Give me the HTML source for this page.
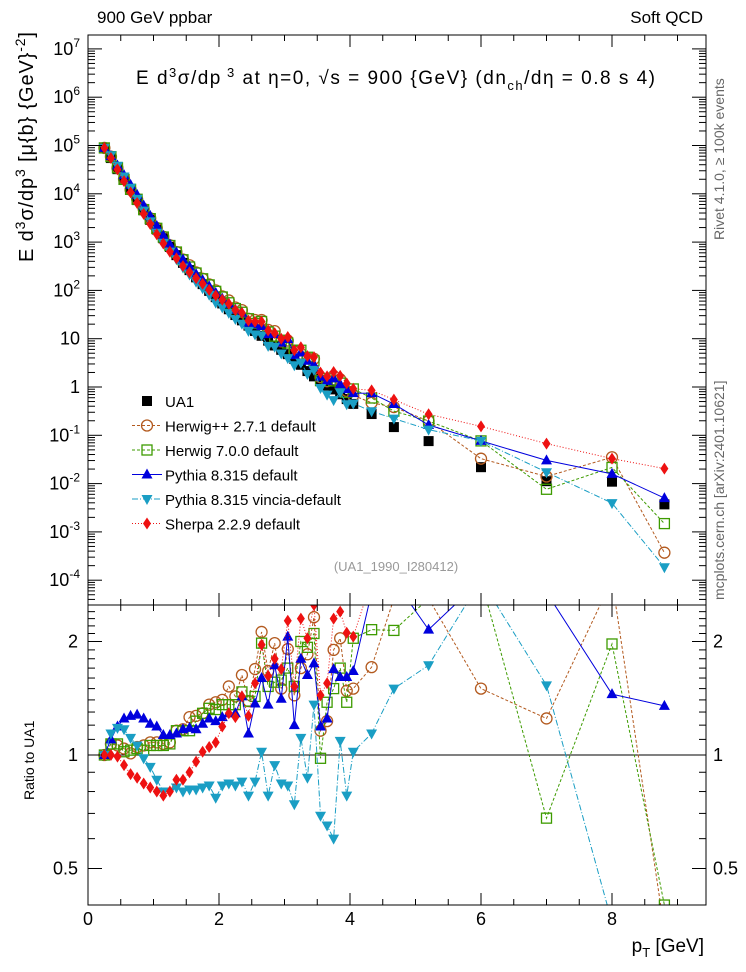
<!DOCTYPE html>
<html><head><meta charset="utf-8"><style>
html,body{margin:0;padding:0;background:#fff;width:746px;height:972px;overflow:hidden;}
svg{display:block;font-family:"Liberation Sans",sans-serif;}
</style></head><body>
<svg id="c" width="746" height="972" viewBox="0 0 746 972" xmlns="http://www.w3.org/2000/svg">
<defs>
<clipPath id="cm"><rect x="88" y="35" width="618" height="570"/></clipPath>
<clipPath id="cr"><rect x="88" y="605" width="618" height="300"/></clipPath>
</defs>
<text x="97" y="23" font-size="17">900 GeV ppbar</text>
<text x="703" y="23" font-size="17" text-anchor="end">Soft QCD</text>
<text transform="translate(724,240) rotate(-90)" font-size="14" fill="#666">Rivet 4.1.0, ≥ 100k events</text>
<text transform="translate(724,600) rotate(-90)" font-size="14" fill="#666">mcplots.cern.ch [arXiv:2401.10621]</text>
<text x="136" y="84" font-size="19" textLength="519" lengthAdjust="spacing">E  d<tspan dy="-7" font-size="13">3</tspan><tspan dy="7">σ/dp</tspan><tspan dy="-7" font-size="13"> 3</tspan><tspan dy="7"> at η=0,  √s = 900 {GeV}  (dn</tspan><tspan dy="6" font-size="13">ch</tspan><tspan dy="-6">/dη = 0.8 s 4)</tspan></text>
<text transform="translate(33,32) rotate(-90)" font-size="20" text-anchor="end" textLength="230" lengthAdjust="spacing">E d<tspan dy="-8" font-size="14">3</tspan><tspan dy="8">σ/dp</tspan><tspan dy="-8" font-size="14">3</tspan><tspan dy="8"> [μ{b} {GeV}</tspan><tspan dy="-8" font-size="14">-2</tspan><tspan dy="8">]</tspan></text>
<text transform="translate(34,800) rotate(-90)" font-size="14">Ratio to UA1</text>
<text x="704" y="952" font-size="19" text-anchor="end">p<tspan dy="5" font-size="13">T</tspan><tspan dy="-5"> [GeV]</tspan></text>
<text x="396" y="571" font-size="13" fill="#999" text-anchor="middle">(UA1_1990_I280412)</text>
<g id="gm" clip-path="url(#cm)"></g>
<g id="gr" clip-path="url(#cr)"></g>
<g id="ax"></g>
<g id="lg"></g>
</svg>
<script>
const pT=[0.25,0.35,0.45,0.55,0.65,0.75,0.85,0.95,1.05,1.15,1.25,1.35,1.45,1.55,1.65,1.75,1.85,1.95,2.05,2.15,2.25,2.35,2.45,2.55,2.65,2.75,2.85,2.95,3.05,3.15,3.25,3.35,3.45,3.55,3.65,3.75,3.85,3.95,4.05,4.33,4.67,5.2,6.0,7.0,8.0,8.8];
const ua1Log=[4.95,4.74,4.51,4.29,4.08,3.87,3.66,3.46,3.26,3.08,2.90,2.73,2.57,2.42,2.27,2.13,1.99,1.86,1.73,1.61,1.49,1.38,1.27,1.16,1.06,0.96,0.86,0.77,0.68,0.58,0.46,0.33,0.22,0.14,0.03,-0.05,-0.15,-0.25,-0.35,-0.56,-0.83,-1.12,-1.66,-1.95,-1.96,-2.43];
const herwigppRatio=[1.0,1.07,1.06,1.04,1.01,1.05,1.06,1.08,1.08,1.07,1.08,1.16,1.17,1.26,1.27,1.29,1.36,1.38,1.40,1.52,1.43,1.63,1.39,1.69,2.12,1.67,1.98,1.5,1.91,1.44,1.7,1.85,2.32,1.16,1.23,1.9,2.04,1.48,1.5,1.71,2.6,2.6,1.5,1.25,3.2,0.1];
const herwig7Ratio=[1.0,1.07,1.07,1.02,1.03,1.04,1.03,1.06,1.06,1.06,1.07,1.16,1.16,1.16,1.23,1.29,1.33,1.32,1.36,1.36,1.36,1.47,1.39,1.43,1.98,1.52,1.56,1.58,1.7,1.52,2.0,1.93,2.1,0.98,1.38,1.5,1.7,1.38,2.04,2.15,2.14,2.6,3.5,0.68,1.97,0.4];
const pythiaRatio=[1.0,1.1,1.19,1.25,1.27,1.28,1.25,1.21,1.19,1.13,1.13,1.14,1.17,1.18,1.17,1.21,1.25,1.23,1.26,1.29,1.29,1.43,1.14,1.37,1.6,1.36,1.73,1.41,2.06,1.2,1.8,1.63,1.75,1.19,1.25,1.69,1.61,1.61,1.67,2.7,3.0,2.15,3.5,2.7,1.45,1.35];
const vinciaRatio=[1.0,1.14,1.18,1.17,1.11,1.06,0.98,0.93,0.86,0.8,0.8,0.82,0.8,0.81,0.81,0.82,0.83,0.77,0.83,0.84,0.83,0.85,0.78,0.85,1.02,0.78,0.94,0.84,0.83,0.74,1.11,0.87,1.36,0.69,0.65,0.6,1.09,0.78,1.02,1.14,1.5,1.73,3.5,1.53,0.36,0.05];
const sherpaRatio=[1.0,1.0,0.99,0.94,0.89,0.87,0.84,0.82,0.8,0.78,0.8,0.86,0.86,0.9,0.96,1.02,1.05,1.08,1.19,1.29,1.26,1.43,1.27,1.55,1.96,1.62,1.8,1.69,2.27,1.52,2.3,2.04,2.5,1.44,1.55,2.3,2.4,2.11,2.06,3.1,3.7,3.6,7.0,6.0,3.0,5.5];
const xTicks=[0,2,4,6,8];
const yDecades=[-4,-3,-2,-1,0,1,2,3,4,5,6,7];
const ratioTicks=[0.5,1,2];

const NS="http://www.w3.org/2000/svg";
function X(p){return 88+p*65.5;}
function Y(v){return Math.min(620,Math.max(20,387-Math.log10(v)*48.3));}
function R(r){return Math.min(930,Math.max(580,755-Math.log2(r)*113.5));}
function mk(tag,attrs,parent){const e=document.createElementNS(NS,tag);for(const k in attrs)e.setAttribute(k,attrs[k]);parent.appendChild(e);return e;}
const gm=document.getElementById('gm'),gr=document.getElementById('gr'),ax=document.getElementById('ax'),lg=document.getElementById('lg');
const ua1=ua1Log.map(l=>Math.pow(10,l));

function marker(type,x,y,col,parent){
  let e;
  if(type==='sq'){e=mk('rect',{x:x-5,y:y-5,width:10,height:10,fill:col},parent);}
  else if(type==='osq'){e=mk('rect',{x:x-5,y:y-5,width:10,height:10,fill:'none',stroke:col,'stroke-width':1.3},parent);}
  else if(type==='oc'){e=mk('circle',{cx:x,cy:y,r:5.5,fill:'none',stroke:col,'stroke-width':1.3},parent);}
  else if(type==='tu'){e=mk('polygon',{points:`${x},${y-6} ${x-5.5},${y+4} ${x+5.5},${y+4}`,fill:col},parent);}
  else if(type==='td'){e=mk('polygon',{points:`${x},${y+6} ${x-5.5},${y-4} ${x+5.5},${y-4}`,fill:col},parent);}
  else {e=mk('polygon',{points:`${x},${y-6} ${x-4},${y} ${x},${y+6} ${x+4},${y}`,fill:col},parent);}
  return e;
}
const models=[
 {name:'herwigpp',label:'Herwig++ 2.7.1 default',ratio:herwigppRatio,col:'#b35a1f',m:'oc',dash:'3,2'},
 {name:'herwig7',label:'Herwig 7.0.0 default',ratio:herwig7Ratio,col:'#3d9b00',m:'osq',dash:'3,2'},
 {name:'pythia',label:'Pythia 8.315 default',ratio:pythiaRatio,col:'#0000dd',m:'tu',dash:''},
 {name:'vincia',label:'Pythia 8.315 vincia-default',ratio:vinciaRatio,col:'#1a9ec4',m:'td',dash:'6,2,1,2'},
 {name:'sherpa',label:'Sherpa 2.2.9 default',ratio:sherpaRatio,col:'#ee1111',m:'di',dash:'1,2'}
];
pT.forEach((p,i)=>{const e=marker('sq',X(p),Y(ua1[i]),'#000',gm);

});
const l1=mk('line',{x1:88,x2:706,y1:R(1),y2:R(1),stroke:'#000','stroke-width':1},gr);


models.forEach(md=>{
  const mainPts=pT.map((p,i)=>X(p)+','+Y(ua1[i]*md.ratio[i])).join(' ');
  const ratPts=pT.map((p,i)=>X(p)+','+R(md.ratio[i])).join(' ');
  const a=mk('polyline',{points:mainPts,fill:'none',stroke:md.col,'stroke-width':1,'stroke-dasharray':md.dash},gm);
  
  
  const b=mk('polyline',{points:ratPts,fill:'none',stroke:md.col,'stroke-width':1,'stroke-dasharray':md.dash},gr);
  
  
  pT.forEach((p,i)=>{
    const e=marker(md.m,X(p),Y(ua1[i]*md.ratio[i]),md.col,gm);
    
    
    const f=marker(md.m,X(p),R(md.ratio[i]),md.col,gr);
    
    
  });
});
[[35,570],[605,300]].forEach(([y,h],j)=>{const f=mk('rect',{x:88,y:y,width:618,height:h,fill:'none',stroke:'#000','stroke-width':1},ax);

});
for(let v=0;v<=9.4;v+=0.5){const big=Math.abs(v-Math.round(v/2)*2)<1e-6;const L=big?12:6;const x=X(v);
 [[605,-1],[905,-1],[35,1],[605,1]].forEach(([y,d])=>{mk('line',{x1:x,x2:x,y1:y,y2:y+d*L,stroke:'#000'},ax);});}
xTicks.forEach(v=>{const t=mk('text',{x:X(v),y:925,'font-size':18,'text-anchor':'middle'},ax);t.textContent=v;

});
for(let d=-5;d<=7;d++){for(let k=1;k<10;k++){const v=k*Math.pow(10,d);const y=387-Math.log10(v)*48.3;if(y<35||y>605)continue;const L=k===1?14:7;
 mk('line',{x1:88,x2:88+L,y1:y,y2:y,stroke:'#000'},ax);mk('line',{x1:706,x2:706-L,y1:y,y2:y,stroke:'#000'},ax);}}
yDecades.forEach(d=>{const y=Y(Math.pow(10,d))+6;const t=mk('text',{x:80,y:y,'font-size':18,'text-anchor':'end'},ax);
 if(d===0)t.textContent='1';else if(d===1)t.textContent='10';else{t.innerHTML='10<tspan dy="-8" font-size="12">'+d+'</tspan>';}
 
 });
[0.4,0.5,0.6,0.7,0.8,0.9,1,1.1,1.2,1.3,1.4,1.5,1.6,1.7,1.8,1.9,2,2.1,2.2,2.3,2.4,2.5].forEach(v=>{const y=755-Math.log2(v)*113.5;if(y<605||y>905)return;const L=(v===0.5||v===1||v===2)?14:7;
 mk('line',{x1:88,x2:88+L,y1:y,y2:y,stroke:'#000'},ax);mk('line',{x1:706,x2:706-L,y1:y,y2:y,stroke:'#000'},ax);});
ratioTicks.forEach(v=>{const y=R(v)+6;[[78,'end'],[713,'start']].forEach(([x,a])=>{const t=mk('text',{x:x,y:y,'font-size':18,'text-anchor':a},ax);t.textContent=v;
 
 });});
const ents=[{label:'UA1',m:'sq',col:'#000',dash:null}].concat(models);
ents.forEach((e,i)=>{const y=401+i*24.5;const g=mk('g',{},lg);
 
 
 if(e.dash!==null)mk('line',{x1:132,x2:162,y1:y,y2:y,stroke:e.col,'stroke-dasharray':e.dash},g);
 marker(e.m,147,y,e.col,g);
 const t=mk('text',{x:165,y:y+6,'font-size':15},g);t.textContent=e.label;});
</script>
</body></html>
